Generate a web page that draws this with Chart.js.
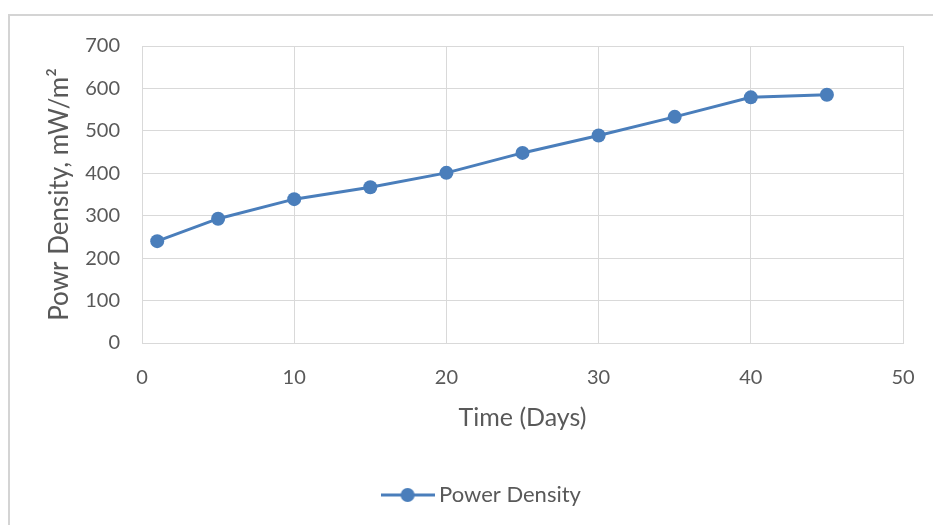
<!DOCTYPE html>
<html>
<head>
<meta charset="utf-8">
<script src="https://cdn.jsdelivr.net/npm/chart.js@4/dist/chart.umd.min.js"></script>
<style>
  html, body { margin: 0; padding: 0; background: #ffffff; }
  #wrap { position: relative; width: 933px; height: 525px; }
</style>
</head>
<body>
<div id="wrap"><canvas id="chart" width="933" height="525"></canvas></div>
<script>
// Power density measured over the run
const days = [1, 5, 10, 15, 20, 25, 30, 35, 40, 45];
const powerDensity = [240, 293, 339, 367, 401, 448, 489, 533, 579, 585];
const seriesName = 'Power Density';
const xTitle = 'Time (Days)';
const yTitle = 'Powr Density, mW/m\u00B2';

const FONT = 'Lato, "Open Sans", sans-serif';
const TEXT = '#595959';
const GRID = '#d9d9d9';
const BLUE = '#4a7ebb';

// legend swatch: short line with a round marker in the middle
function lineMarkerSwatch() {
  const c = document.createElement('canvas');
  c.width = 54; c.height = 16;
  const g = c.getContext('2d');
  g.strokeStyle = BLUE; g.lineWidth = 3;
  g.beginPath(); g.moveTo(0, 8); g.lineTo(54, 8); g.stroke();
  g.fillStyle = BLUE;
  g.beginPath(); g.arc(27, 8, 7, 0, Math.PI * 2); g.fill();
  return c;
}
const swatch = lineMarkerSwatch();

// outer frame of the chart object
const framePlugin = {
  id: 'frame',
  beforeDraw(chart) {
    const ctx = chart.ctx;
    ctx.save();
    ctx.fillStyle = '#ffffff';
    ctx.fillRect(0, 0, chart.width, chart.height);
    ctx.strokeStyle = '#d4d4d4';
    ctx.lineWidth = 2;
    ctx.beginPath();
    ctx.moveTo(9, chart.height);
    ctx.lineTo(9, 15);
    ctx.lineTo(chart.width, 15);
    ctx.stroke();
    ctx.restore();
  }
};

new Chart(document.getElementById('chart'), {
  type: 'line',
  data: {
    datasets: [{
      label: seriesName,
      data: days.map((d, i) => ({ x: d, y: powerDensity[i] })),
      borderColor: BLUE,
      backgroundColor: BLUE,
      borderWidth: 3,
      pointRadius: 7,
      pointHoverRadius: 7,
      pointBorderWidth: 0,
      pointBackgroundColor: BLUE,
      pointStyle: 'circle',
      tension: 0,
      fill: false
    }]
  },
  options: {
    responsive: false,
    animation: false,
    devicePixelRatio: 1,
    layout: { padding: { left: 65, right: 30, top: 46, bottom: 9 } },
    plugins: {
      tooltip: { enabled: false },
      legend: {
        position: 'bottom',
        labels: {
          usePointStyle: true,
          pointStyle: swatch,
          pointStyleWidth: 41,
          padding: 10,
          color: TEXT,
          font: { family: FONT, size: 22 },
          generateLabels(chart) {
            return chart.data.datasets.map((ds, i) => ({
              text: ds.label,
              pointStyle: swatch,
              fillStyle: BLUE,
              strokeStyle: BLUE,
              lineWidth: 0,
              fontColor: TEXT,
              hidden: false,
              datasetIndex: i
            }));
          }
        }
      }
    },
    scales: {
      x: {
        type: 'linear',
        min: 0,
        max: 50,
        ticks: {
          stepSize: 10,
          padding: 9,
          color: TEXT,
          font: { family: FONT, size: 20 }
        },
        grid: {
          color: GRID,
          lineWidth: 1,
          drawTicks: true,
          tickLength: 14,
          tickColor: 'rgba(0,0,0,0)'
        },
        border: { color: GRID, width: 1 },
        title: {
          display: true,
          text: xTitle,
          color: TEXT,
          font: { family: FONT, size: 25, lineHeight: 1 },
          padding: { top: 0, bottom: 44 }
        },
        afterFit(scale) { scale.height = 131; }
      },
      y: {
        type: 'linear',
        min: 0,
        max: 700,
        ticks: {
          stepSize: 100,
          padding: 22,
          color: TEXT,
          font: { family: FONT, size: 20 }
        },
        grid: { color: GRID, lineWidth: 1, drawTicks: false },
        border: { color: GRID, width: 1 },
        title: {
          display: true,
          text: yTitle,
          color: TEXT,
          font: { family: FONT, size: 26, lineHeight: 1 },
          padding: { top: -18, bottom: 0 }
        },
        afterFit(scale) { scale.width = 77; }
      }
    }
  },
  plugins: [framePlugin]
});
</script>
</body>
</html>
